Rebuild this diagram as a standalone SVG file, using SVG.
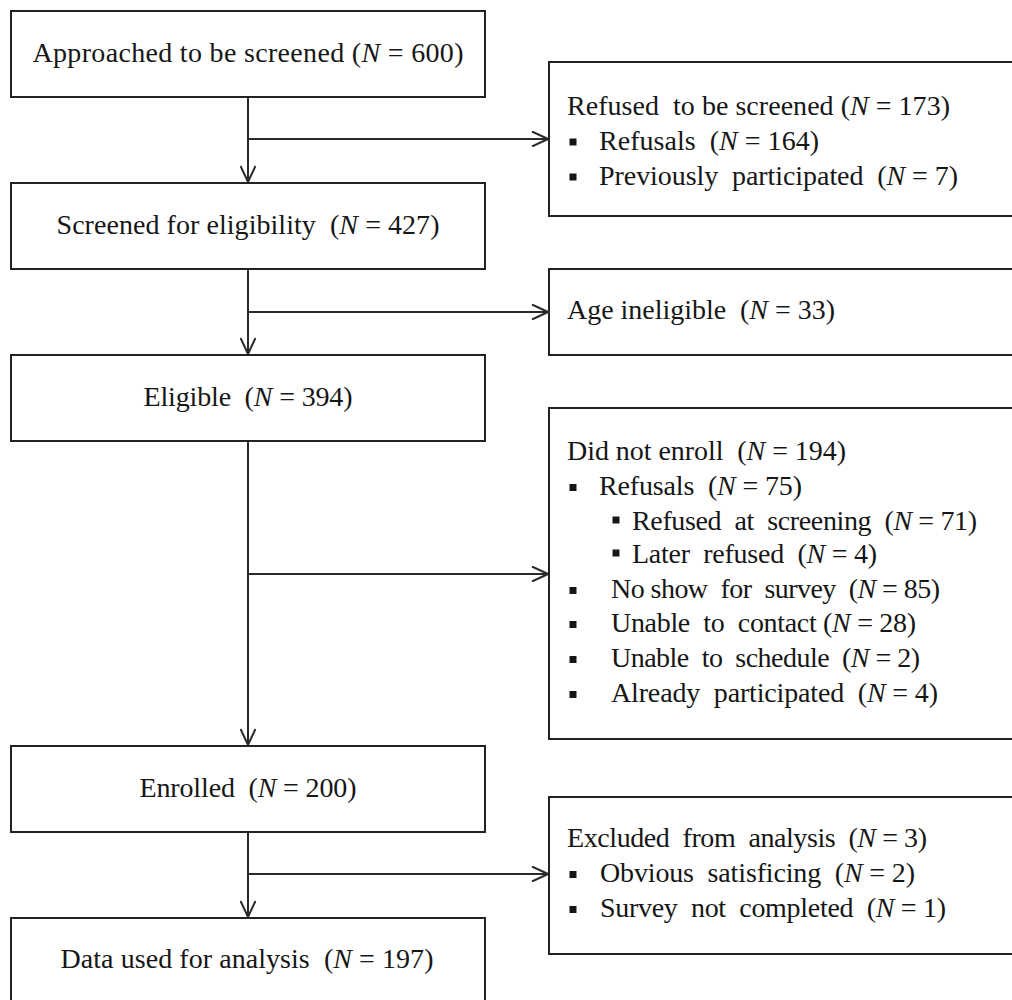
<svg xmlns="http://www.w3.org/2000/svg" width="1012" height="1000" viewBox="0 0 1012 1000">
<style>
  .box { fill: #ffffff; stroke: #222222; stroke-width: 2; }
  .t { font-family: "Liberation Serif", "Times New Roman", serif; font-size: 28px; fill: #161616; }
  .c { text-anchor: middle; }
  .i { font-style: italic; }
  .bul { fill: #161616; }
  .conn { fill: none; stroke: #2a2a2a; stroke-width: 2; }
</style>
<defs>
  <marker id="arr" viewBox="0 0 18 16" refX="17" refY="8" markerWidth="18" markerHeight="16" markerUnits="userSpaceOnUse" orient="auto">
    <path d="M1,0.5 L17,8 L1,15.5" fill="none" stroke="#2a2a2a" stroke-width="2"/>
  </marker>
</defs>
<rect x="0" y="0" width="1012" height="1000" fill="#ffffff"/>

<g id="connectors">
  <path class="conn" d="M248,97 L248,182" marker-end="url(#arr)"/>
  <path class="conn" d="M248,139 L548,139" marker-end="url(#arr)"/>
  <path class="conn" d="M248,269 L248,354" marker-end="url(#arr)"/>
  <path class="conn" d="M248,312 L548,312" marker-end="url(#arr)"/>
  <path class="conn" d="M248,441 L248,745" marker-end="url(#arr)"/>
  <path class="conn" d="M248,574 L548,574" marker-end="url(#arr)"/>
  <path class="conn" d="M248,832 L248,917" marker-end="url(#arr)"/>
  <path class="conn" d="M248,874 L548,874" marker-end="url(#arr)"/>
</g>

<g id="approached">
  <rect class="box" x="11" y="11" width="474" height="86"/>
  <text class="t c" x="248" y="62" textLength="431" xml:space="preserve">Approached to be screened (<tspan class="i">N</tspan> = 600)</text>
</g>
<g id="screened">
  <rect class="box" x="11" y="183" width="474" height="86"/>
  <text class="t c" x="248" y="234" textLength="383" xml:space="preserve">Screened for eligibility  (<tspan class="i">N</tspan> = 427)</text>
</g>
<g id="eligible">
  <rect class="box" x="11" y="355" width="474" height="86"/>
  <text class="t c" x="248" y="406" textLength="209" xml:space="preserve">Eligible  (<tspan class="i">N</tspan> = 394)</text>
</g>
<g id="enrolled">
  <rect class="box" x="11" y="746" width="474" height="86"/>
  <text class="t c" x="248" y="797" textLength="217" xml:space="preserve">Enrolled  (<tspan class="i">N</tspan> = 200)</text>
</g>
<g id="analysis">
  <rect class="box" x="11" y="918" width="474" height="90"/>
  <text class="t c" x="247" y="968" textLength="373" xml:space="preserve">Data used for analysis  (<tspan class="i">N</tspan> = 197)</text>
</g>

<g id="refused">
  <rect class="box" x="549" y="62" width="480" height="154"/>
  <text class="t" x="567" y="115" textLength="383" xml:space="preserve">Refused  to be screened (<tspan class="i">N</tspan> = 173)</text>
  <rect class="bul" x="569.5" y="138.5" width="7" height="7"/>
  <text class="t" x="599" y="150" textLength="220" xml:space="preserve">Refusals  (<tspan class="i">N</tspan> = 164)</text>
  <rect class="bul" x="569.5" y="173.5" width="7" height="7"/>
  <text class="t" x="599" y="185" textLength="359" xml:space="preserve">Previously  participated  (<tspan class="i">N</tspan> = 7)</text>
</g>
<g id="age">
  <rect class="box" x="549" y="269" width="480" height="86"/>
  <text class="t" x="567" y="319" textLength="268" xml:space="preserve">Age ineligible  (<tspan class="i">N</tspan> = 33)</text>
</g>
<g id="notenroll">
  <rect class="box" x="549" y="408" width="480" height="331"/>
  <text class="t" x="567" y="460" textLength="279" xml:space="preserve">Did not enroll  (<tspan class="i">N</tspan> = 194)</text>
  <rect class="bul" x="569.5" y="484" width="7" height="7"/>
  <text class="t" x="599" y="495" textLength="203" xml:space="preserve">Refusals  (<tspan class="i">N</tspan> = 75)</text>
  <rect class="bul" x="612.5" y="516.5" width="7" height="7"/>
  <text class="t" x="632" y="530" textLength="345" xml:space="preserve">Refused  at  screening  (<tspan class="i">N</tspan> = 71)</text>
  <rect class="bul" x="612.5" y="549.5" width="7" height="7"/>
  <text class="t" x="632" y="563" textLength="245" xml:space="preserve">Later  refused  (<tspan class="i">N</tspan> = 4)</text>
  <rect class="bul" x="569.5" y="587" width="7" height="7"/>
  <text class="t" x="611" y="598" textLength="329" xml:space="preserve">No show  for  survey  (<tspan class="i">N</tspan> = 85)</text>
  <rect class="bul" x="569.5" y="621" width="7" height="7"/>
  <text class="t" x="611" y="632" textLength="305" xml:space="preserve">Unable  to  contact (<tspan class="i">N</tspan> = 28)</text>
  <rect class="bul" x="569.5" y="656" width="7" height="7"/>
  <text class="t" x="611" y="667" textLength="309" xml:space="preserve">Unable  to  schedule  (<tspan class="i">N</tspan> = 2)</text>
  <rect class="bul" x="569.5" y="691" width="7" height="7"/>
  <text class="t" x="611" y="702" textLength="327" xml:space="preserve">Already  participated  (<tspan class="i">N</tspan> = 4)</text>
</g>
<g id="excluded">
  <rect class="box" x="549" y="797" width="480" height="157"/>
  <text class="t" x="567" y="847" textLength="360" xml:space="preserve">Excluded  from  analysis  (<tspan class="i">N</tspan> = 3)</text>
  <rect class="bul" x="569.5" y="871" width="7" height="7"/>
  <text class="t" x="600" y="882" textLength="315" xml:space="preserve">Obvious  satisficing  (<tspan class="i">N</tspan> = 2)</text>
  <rect class="bul" x="569.5" y="906" width="7" height="7"/>
  <text class="t" x="600" y="917" textLength="346" xml:space="preserve">Survey  not  completed  (<tspan class="i">N</tspan> = 1)</text>
</g>
</svg>
